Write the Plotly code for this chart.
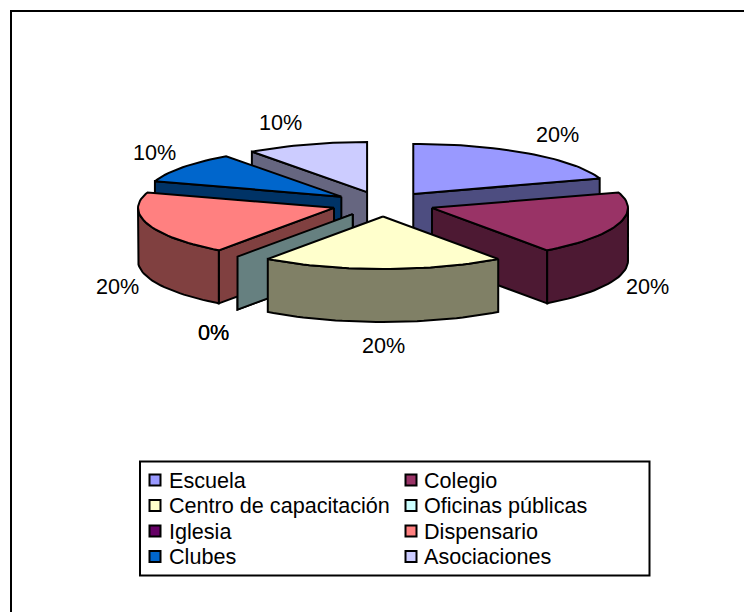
import math
import plotly.graph_objects as go

categories = ["Escuela", "Colegio", "Centro de capacitación", "Oficinas públicas",
              "Iglesia", "Dispensario", "Clubes", "Asociaciones"]
values = [20, 20, 20, 0, 0, 20, 10, 10]
top_colors = ["#9999FF", "#993366", "#FFFFCC", "#CCFFFF", "#660066", "#FF8080", "#0066CC", "#CCCCFF"]
wall_colors = ["#4D4D80", "#4D1933", "#808066", "#668080", "#330033", "#804040", "#003366", "#666680"]

# pie geometry (axes are in page pixels)
CX, CY = 383, 204
RX, RY_BACK, RY_FRONT = 196, 50, 52.5
EX, EY = 51.5, 12.5
DEPTH = 53
DRAW_ORDER = [7, 0, 6, 4, 5, 3, 1, 2]
FONT = "Liberation Sans, Arial, sans-serif"
FONT_SIZE = 21.6
LABEL_NUDGE = {0: (29, -19), 1: (29, 62), 2: (0, 76), 3: (-24, 76), 4: (-24, 76),
               5: (-30, 62), 6: (-28, -15), 7: (-26, -22)}
LEG_BOX = (140, 461.5, 649.5, 575.5)
LEG_SWATCH_X = (155, 411)
LEG_TEXT_X = (169.5, 425)
LEG_ROW_Y = (480, 505.5, 531, 556.5)

total = sum(values)
starts, ends, acc = [], [], 0.0
for v in values:
    starts.append(acc)
    acc += v / total * 360
    ends.append(acc)


def rim(cx, cy, deg):
    a = math.radians(deg)
    c = math.cos(a)
    ry = RY_BACK if c >= 0 else RY_FRONT
    return cx + RX * math.sin(a), cy - ry * c


def arc(cx, cy, a, b):
    n = max(1, int(round(abs(b - a) / 2)))
    return [rim(cx, cy, a + (b - a) * i / n) for i in range(n + 1)]


fig = go.Figure()


def poly(points, color, name):
    xs = [p[0] for p in points] + [points[0][0]]
    ys = [p[1] for p in points] + [points[0][1]]
    fig.add_trace(go.Scatter(x=xs, y=ys, mode="lines", fill="toself", fillcolor=color, name=name,
                             line=dict(color="black", width=2), showlegend=False,
                             hoverinfo="skip"))


centers = {}
for i in range(len(values)):
    mid = math.radians((starts[i] + ends[i]) / 2)
    centers[i] = (CX + EX * math.sin(mid), CY - EY * math.cos(mid))

for i in DRAW_ORDER:
    cx, cy = centers[i]
    s, e = starts[i], ends[i]
    down = lambda pts: [(x, y + DEPTH) for x, y in pts][::-1]
    if math.sin(math.radians(s)) < 0:
        edge = [(cx, cy), rim(cx, cy, s)]
        poly(edge + down(edge), wall_colors[i], categories[i])
    if math.sin(math.radians(e)) > 0 and e > s:
        edge = [(cx, cy), rim(cx, cy, e)]
        poly(edge + down(edge), wall_colors[i], categories[i])
    a, b = max(s, 90), min(e, 270)
    if b > a:
        outer = arc(cx, cy, a, b)
        poly(outer + down(outer), wall_colors[i], categories[i])
    if e > s:
        poly([(cx, cy)] + arc(cx, cy, s, e), top_colors[i], categories[i])

annotations = []
for i, v in enumerate(values):
    cx, cy = centers[i]
    px, py = rim(cx, cy, (starts[i] + ends[i]) / 2)
    dx, dy = LABEL_NUDGE[i]
    annotations.append(dict(x=px + dx, y=py + dy, xref="x", yref="y", text=f"{v}%",
                            showarrow=False, xanchor="center", yanchor="middle",
                            font=dict(family=FONT, size=FONT_SIZE, color="black")))

# legend drawn on the axes so its tight row spacing can match
for i, (name, col) in enumerate(zip(categories, top_colors)):
    column, row = i % 2, i // 2
    fig.add_trace(go.Scatter(x=[LEG_SWATCH_X[column]], y=[LEG_ROW_Y[row]], mode="markers", name=name,
                             marker=dict(symbol="square", size=11, color=col,
                                         line=dict(color="black", width=2)),
                             showlegend=False, hoverinfo="skip"))
    annotations.append(dict(x=LEG_TEXT_X[column], y=LEG_ROW_Y[row], xref="x", yref="y", text=name,
                            showarrow=False, xanchor="left", yanchor="middle", xshift=-3,
                            font=dict(family=FONT, size=FONT_SIZE, color="black")))

fig.update_layout(
    width=744, height=612, margin=dict(l=0, r=0, t=0, b=0),
    paper_bgcolor="white", plot_bgcolor="white",
    xaxis=dict(range=[0, 744], visible=False, fixedrange=True),
    yaxis=dict(range=[612, 0], visible=False, fixedrange=True),
    annotations=annotations,
    shapes=[dict(type="rect", xref="x", yref="y", x0=11, y0=11, x1=800, y1=800,
                 line=dict(color="black", width=2), layer="below"),
            dict(type="rect", xref="x", yref="y", x0=LEG_BOX[0], y0=LEG_BOX[1], x1=LEG_BOX[2], y1=LEG_BOX[3],
                 line=dict(color="black", width=2), fillcolor="white", layer="below")],
    showlegend=False,
)
fig.write_html("out.html", config={"displayModeBar": False},
               post_script="document.body.style.margin='0';document.documentElement.style.overflow='hidden';")
